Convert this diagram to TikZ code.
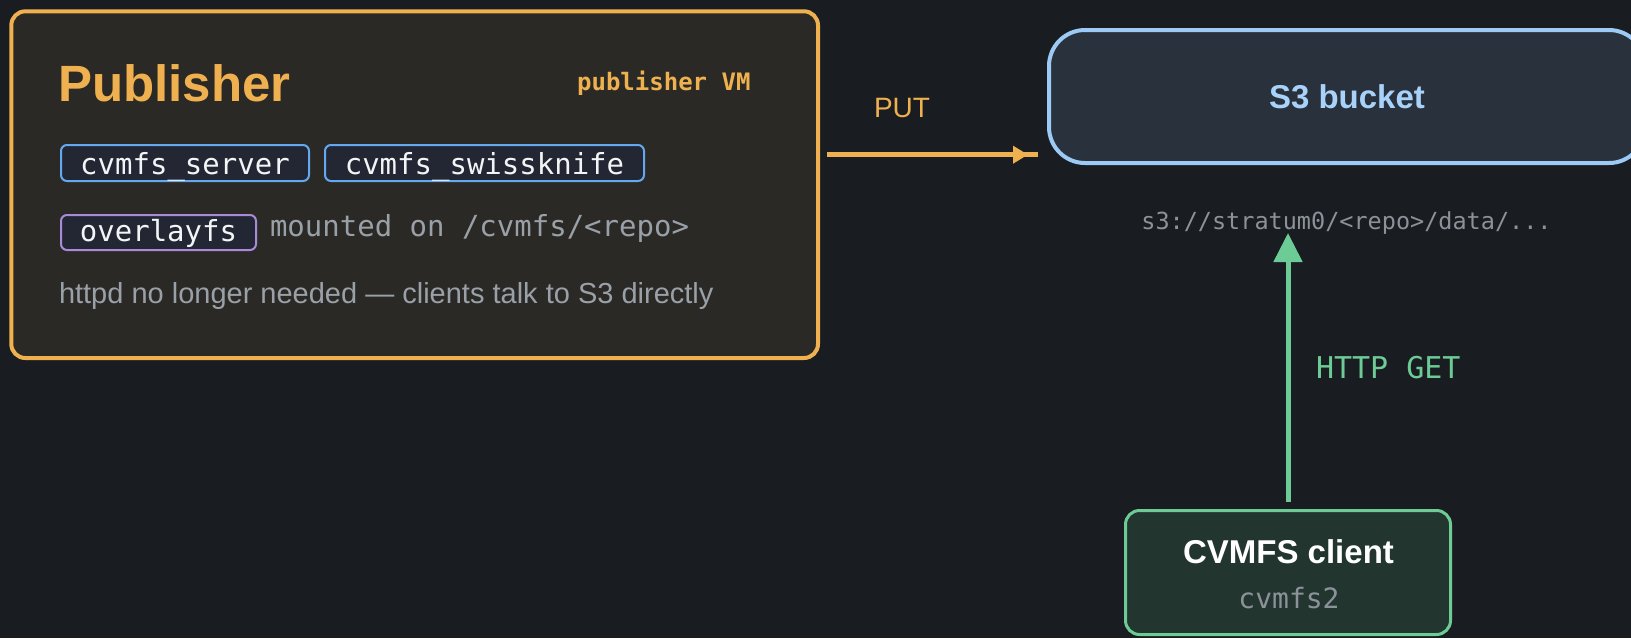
\documentclass[tikz,border=0pt]{standalone}
\usepackage{fontspec}
\setmainfont{Liberation Sans}
\setmonofont{DejaVu Sans Mono}
\usetikzlibrary{arrows.meta}
\definecolor{bgc}{HTML}{191C21}
\definecolor{orangec}{HTML}{EFB14F}
\definecolor{pubfill}{HTML}{2A2925}
\definecolor{chipfill}{HTML}{222733}
\definecolor{chipblue}{HTML}{64A8F0}
\definecolor{chippurple}{HTML}{A98AD8}
\definecolor{chiptext}{HTML}{F2F4F6}
\definecolor{grayA}{HTML}{9AA0A7}
\definecolor{grayB}{HTML}{8C9299}
\definecolor{s3fill}{HTML}{29313C}
\definecolor{s3border}{HTML}{9CCAF4}
\definecolor{s3text}{HTML}{A8D2FA}
\definecolor{greenc}{HTML}{6DCB95}
\definecolor{clfill}{HTML}{22352E}
\newcommand\myfs[1]{\fontsize{#1}{#1}\selectfont}
\tikzset{
  every node/.style={outer sep=0pt, inner sep=0pt},
  chip/.style={draw, line width=2pt, rounded corners=6pt, fill=chipfill, text=chiptext,
    font=\ttfamily\myfs{29}, anchor=north west},
  plainlabel/.style={font=\myfs{29}},
}
\begin{document}
\begin{tikzpicture}[x=1pt,y=-1pt]
\path[use as bounding box] (0,0) rectangle (1631,638);
\clip (0,0) rectangle (1631,638);
\fill[bgc] (0,0) rectangle (1631,638);

% Publisher box
\node[draw=orangec, fill=pubfill, line width=4pt, rounded corners=14pt,
      minimum width=806.7pt, minimum height=346.7pt] (pub) at (414.65,184.65) {};
\node[anchor=base west, text=orangec, font=\bfseries\myfs{51}] (pubtitle) at (58,101.7) {Publisher};
\node[anchor=base east, text=orangec, font=\ttfamily\bfseries\myfs{24}] (pubvm) at (750.5,90) {publisher VM};

\node[chip, draw=chipblue, minimum width=248pt, text height=29pt, text depth=7pt] (srv) at (61,145) {cvmfs\_server};
\node[chip, draw=chipblue, minimum width=319pt, text height=29pt, text depth=7pt] (swk) at (325,145) {cvmfs\_swissknife};
\node[chip, draw=chippurple, minimum width=195pt, text height=26pt, text depth=9pt] (ovl) at (61,215) {overlayfs};

\node[anchor=base west, text=grayA, font=\ttfamily\myfs{29}] (mnt) at (270,236) {mounted on /cvmfs/<repo>};
\node[anchor=base west, text=grayA, plainlabel] (httpd) at (59,303) {httpd no longer needed — clients talk to S3 directly};

% S3 bucket
\node[draw=s3border, fill=s3fill, line width=4pt, rounded corners=36pt,
      minimum width=596pt, minimum height=133pt, text=s3text, font=\bfseries\myfs{33}] (s3) at (1347,96.5) {S3 bucket};
\node[anchor=base, text=grayB, font=\ttfamily\myfs{23.5}] (s3path) at (1346.5,229) {s3://stratum0/<repo>/data/...};

% CVMFS client
\node[draw=greenc, fill=clfill, line width=3pt, rounded corners=14pt,
      minimum width=325pt, minimum height=124pt] (client) at (1288,572.5) {};
\node[anchor=base, text=white, font=\bfseries\myfs{33}] (cltitle) at (1288.5,563) {CVMFS client};
\node[anchor=base, text=grayB, font=\ttfamily\myfs{28}] (clsub) at (1289,608) {cvmfs2};

% PUT arrow
\coordinate (puty) at (0,154.7);
\draw[orangec, line width=4.5pt, shorten <=9pt, shorten >=11pt] (pub.east |- puty) -- (s3.west |- puty);
\draw[orangec, line width=4.5pt, shorten <=9pt, shorten >=21pt, -{Triangle[length=15pt,width=17pt]}] (pub.east |- puty) -- (s3.west |- puty);
\node[anchor=base, text=orangec, font=\myfs{28}] (put) at (902,117.7) {PUT};

% HTTP GET arrow
\coordinate (gettip) at (1289,233);
\draw[greenc, line width=5pt, shorten <=9pt, -{Triangle[length=29pt,width=28pt]}] (client.north) -- (client.north |- gettip);
\node[anchor=base west, text=greenc, font=\ttfamily\myfs{30}] (get) at (1316,378) {HTTP GET};
\end{tikzpicture}
\end{document}
